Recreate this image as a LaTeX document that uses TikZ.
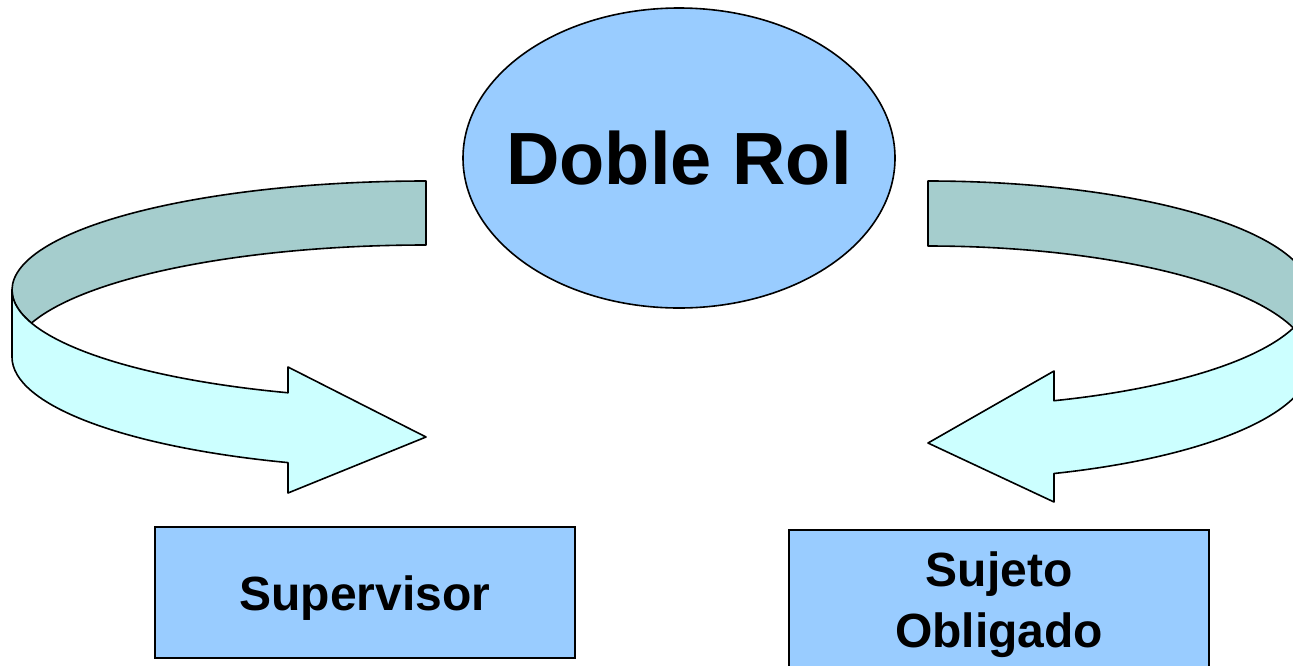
\documentclass[tikz,border=0pt]{standalone}
\usepackage{fontspec}
\setmainfont{Liberation Sans}
\usetikzlibrary{shapes, positioning}
\definecolor{rolblue}{RGB}{153, 204, 255}
\definecolor{bandfront}{RGB}{204, 255, 255}
\definecolor{bandback}{RGB}{165, 205, 205}

\tikzset{
  rolbox/.style={draw, fill=rolblue, line width=1.6pt, inner sep=0pt, align=center,
    font=\bfseries\fontsize{48}{61}\selectfont},
  band/.style={draw, line width=1.6pt, line join=round}
}

\begin{document}
\begin{tikzpicture}[x=1pt, y=-1pt]
        \useasboundingbox (0,0) rectangle (1293,665);
        \clip (0,0) rectangle (1293,665);

        \draw[band, fill=bandback] (426,181) arc[start angle=270, end angle=162.35, x radius=414, y radius=109]
              arc[start angle=197.65, end angle=270, x radius=414, y radius=112] -- cycle;
        \draw[band, fill=bandfront] (12,290) arc[start angle=180, end angle=109.47, x radius=414, y radius=109]
              -- (288,367) -- (426,437) -- (288,493) -- (288,462.6)
              arc[start angle=109.47, end angle=180, x radius=414, y radius=112] -- cycle;

        \draw[band, fill=bandback] (928,181) arc[start angle=-90, end angle=17.46, x radius=383, y radius=113]
              arc[start angle=-17.46, end angle=-90, x radius=383, y radius=117] -- cycle;
        \draw[band, fill=bandfront] (1311,294) arc[start angle=0, end angle=70.8, x radius=383, y radius=113]
              -- (1054,371) -- (928,443) -- (1054,502) -- (1054,473.5)
              arc[start angle=70.8, end angle=0, x radius=383, y radius=117] -- cycle;

        \node[rolbox, ellipse, minimum width=432pt, minimum height=300pt,
              font=\bfseries\fontsize{74}{80}\selectfont] (rol) at (679,158) {\makebox[0pt]{Doble Rol}};
        \node[rolbox, minimum width=420pt, minimum height=131pt, text height=35pt, text depth=0pt]
              (supervisor) at (365,592.5) {Supervisor};
        \node[rolbox, minimum width=420pt, minimum height=150pt] (sujeto) at (999,605) {Sujeto\\Obligado};
\end{tikzpicture}
\end{document}
